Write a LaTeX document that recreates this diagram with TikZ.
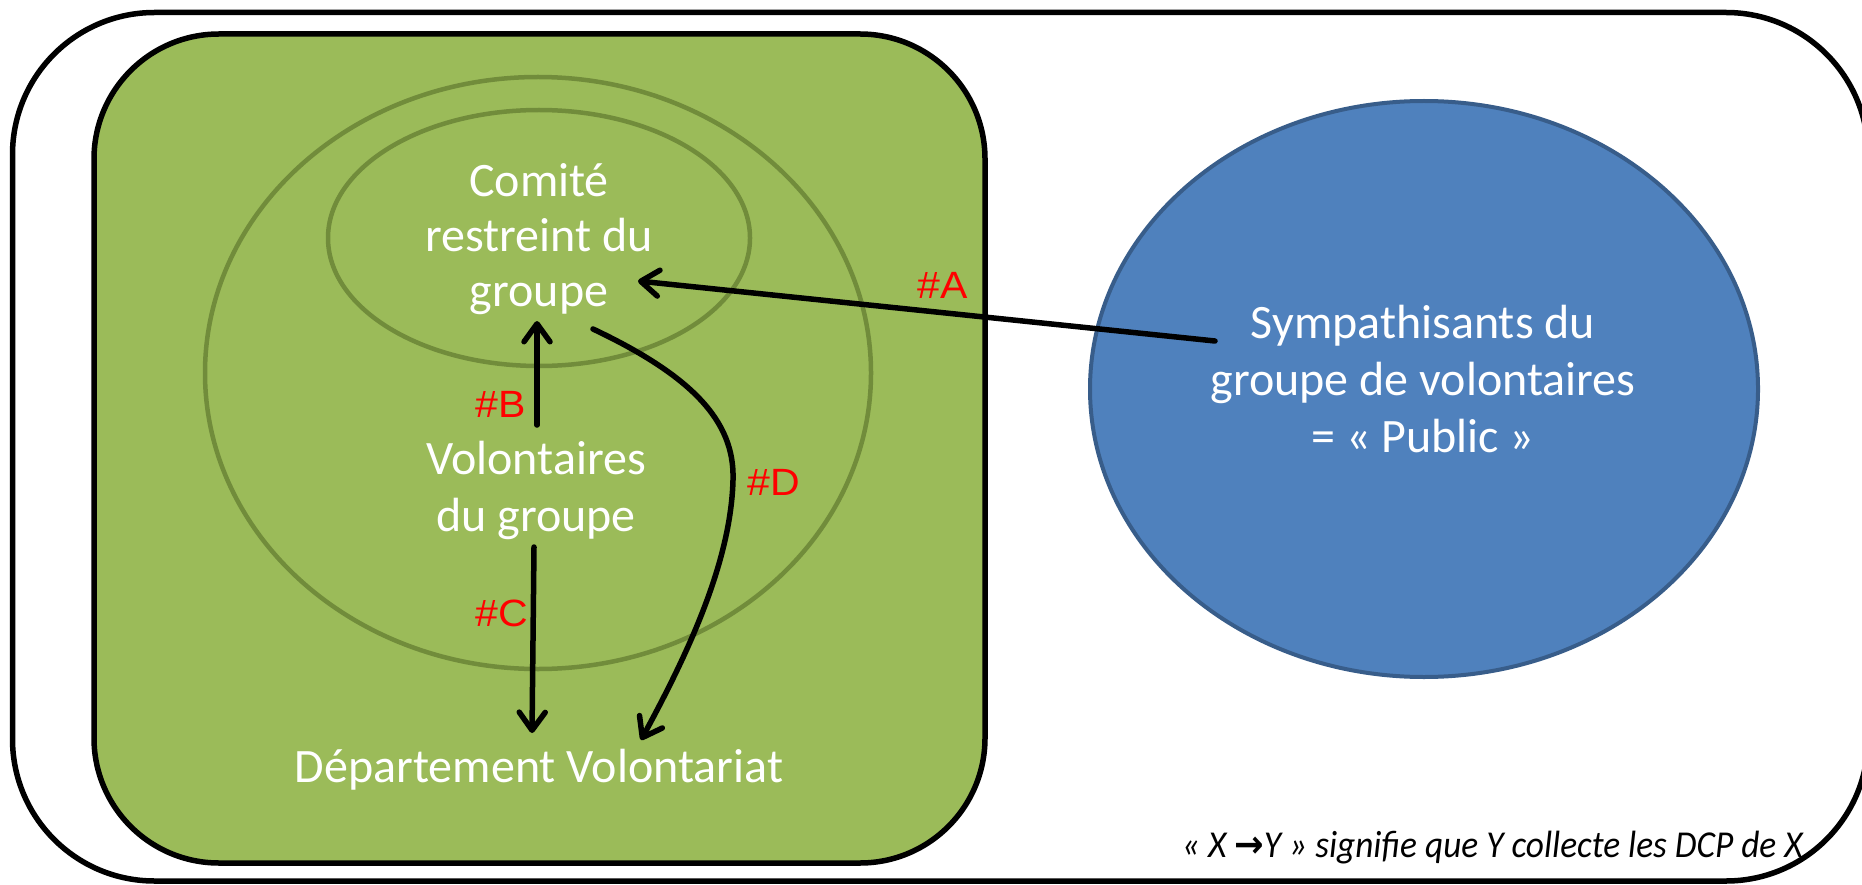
\documentclass[tikz,border=0pt]{standalone}
\usepackage{fontspec}
\setmainfont{Carlito}
\newfontfamily\arrowfont{DejaVu Sans}
\newfontfamily\labelfont{Liberation Sans}
\usetikzlibrary{arrows.meta}
\definecolor{grn}{HTML}{9BBB59}
\definecolor{grnline}{HTML}{718C3B}
\definecolor{blu}{HTML}{4F81BD}
\definecolor{bluline}{HTML}{385D8A}
\tikzset{
  framebox/.style={draw=black, line width=5.5pt},
  ringline/.style={draw=grnline, line width=4.5pt},
  wtxt/.style={text=white, font=\fontsize{48}{55}\selectfont, align=center, inner sep=0pt},
  wtxtb/.style={wtxt, font=\fontsize{48}{57}\selectfont},
  rlbl/.style={text=red, font=\labelfont\fontsize{38}{44}\selectfont, inner sep=0pt},
  arr/.style={draw=black, line width=5.5pt, line cap=round, line join=round,
    -{Straight Barb[length=18pt,width=26pt,line cap=round,line join=round]}},
}
\begin{document}
\begin{tikzpicture}[x=1pt,y=-1pt]
\useasboundingbox (0,0) rectangle (1862,885);
\clip (0,0) rectangle (1862,885);
\fill[white] (0,0) rectangle (1862,885);
% outer frame
\draw[framebox, rounded corners=142pt] (12.5,12.5) rectangle (1868,881);
% green area
\draw[framebox, fill=grn, rounded corners=125pt] (94,34) rectangle (985,863);
% rings
\draw[ringline] (538,373) ellipse [x radius=333, y radius=296];
\draw[ringline] (539,238) ellipse [x radius=211, y radius=128];
% blue public
\draw[draw=bluline, line width=4pt, fill=blu] (1424,389) ellipse [x radius=334, y radius=288];
% texts
\node[wtxt] (comite) at (539,239) {Comité\\restreint du\\groupe};
\node[wtxtb] (volont) at (536,490) {Volontaires\\du groupe};
\node[wtxt, anchor=base] (dept) at (539,782) {Département Volontariat};
\node[wtxtb] (symp) at (1423,379) {Sympathisants du\\groupe de volontaires\\= « Public »};
% labels
\node[rlbl] (la) at (943,285) {\scalebox{1.08}[1]{\#A}};
\node[rlbl] (lb) at (501,404) {\scalebox{1.08}[1]{\#B}};
\node[rlbl] (lc) at (502,613) {\scalebox{1.08}[1]{\#C}};
\node[rlbl] (ld) at (774,482) {\scalebox{1.08}[1]{\#D}};
% connector end points
\coordinate (aS) at (1215,341);
\coordinate (aT) at (638,281);
\coordinate (bS) at (537,425);
\coordinate (bT) at (537,321);
\coordinate (cS) at (534,547);
\coordinate (cT) at (532,733);
\coordinate (dS) at (593,329);
\coordinate (dM) at (733,480);
\coordinate (dT) at (641,740);
\draw[arr] (aS) -- (aT);
\draw[arr] (bS) -- (bT);
\draw[arr] (cS) -- (cT);
\draw[arr] (dS) .. controls (690,375) and (735,420) .. (dM) .. controls (731,560) and (690,650) .. (dT);
% note
\node[anchor=base east, inner sep=0pt, font=\itshape\fontsize{38}{44}\selectfont] (note) at (1803,857)
  {\scalebox{0.93}[1]{« X {\arrowfont\bfseries →}Y » signifie que Y collecte les DCP de X}};
\end{tikzpicture}
\end{document}
